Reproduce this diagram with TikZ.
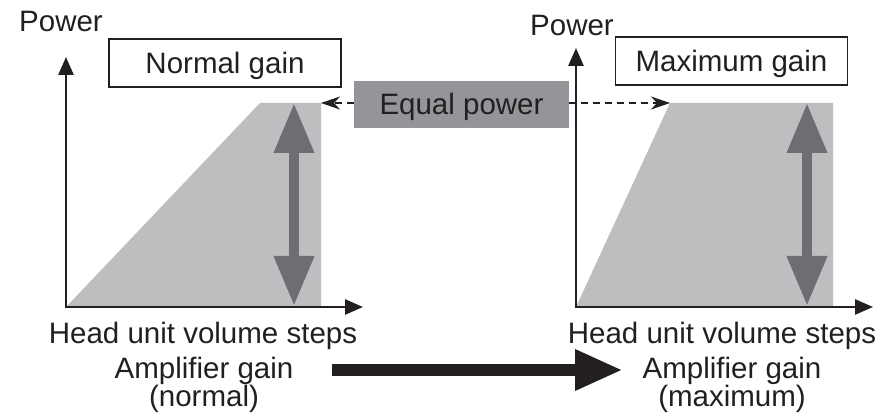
\documentclass[tikz,border=0pt]{standalone}
\usepackage{fontspec}
\setmainfont{Liberation Sans}
\usetikzlibrary{arrows.meta,positioning}
\definecolor{fillgrey}{HTML}{BCBEC0}
\definecolor{levelgrey}{HTML}{6D6E71}
\definecolor{boxgrey}{HTML}{939598}
\definecolor{ink}{HTML}{231F20}
\newcommand{\figfont}{\fontsize{29.5}{28}\selectfont\lineskiplimit=-50pt\relax}
\tikzstyle{axis} = [ink, line width=2.7pt,
                    {Triangle[length=18pt,width=15pt]}-{Triangle[length=18pt,width=15pt]}]

\begin{document}
\begin{tikzpicture}[x=1pt,y=-1pt]

  \useasboundingbox (0,0) rectangle (892,414);

  \tikzstyle{txt}=[text=ink, inner sep=0pt, font=\figfont];
  \tikzstyle{gainbox}=[txt, draw=ink, line width=1.5pt, fill=white,
                       minimum width=232pt, minimum height=48pt,
                       text height=21pt, text depth=0pt];
  \tikzstyle{eqbox}=[txt, fill=boxgrey,
                     minimum width=215pt, minimum height=47pt,
                     text height=21pt, text depth=0pt];
  \tikzstyle{level}=[levelgrey, line width=10pt,
                     {Triangle[length=50pt,width=38pt]}-{Triangle[length=50pt,width=38pt]}];
  \tikzstyle{dasharrow}=[ink, line width=2pt, dash pattern=on 7pt off 5pt,
                         -{Stealth[length=19pt,width=13pt,inset=6pt]}];
  \tikzstyle{bigarrow}=[ink, line width=12pt,
                        -{Triangle[length=48pt,width=38pt]}];

  % left chart (normal gain)
  \coordinate (OriginL) at (66,307);
  \coordinate (YtipL) at (66,57);
  \coordinate (XtipL) at (363,307);
  \coordinate (RampL) at (260,103);
  \coordinate (TopL) at (321,103);
  \coordinate (EndL) at (321,307);
  \coordinate (LevelTopL) at (294,103);
  \coordinate (LevelBotL) at (294,306);

  % right chart (maximum gain)
  \coordinate (OriginR) at (576,307);
  \coordinate (YtipR) at (576,48);
  \coordinate (XtipR) at (873,307);
  \coordinate (RampR) at (670,103);
  \coordinate (TopR) at (833,103);
  \coordinate (EndR) at (833,307);
  \coordinate (LevelTopR) at (807,103);
  \coordinate (LevelBotR) at (807,306);

  \coordinate (GainFrom) at (332,370);
  \coordinate (GainTo) at (623,370);

  \fill[fillgrey] (OriginL) -- (RampL) -- (TopL) -- (EndL) -- cycle;
  \fill[fillgrey] (OriginR) -- (RampR) -- (TopR) -- (EndR) -- cycle;

  \draw[level] (LevelBotL) -- (LevelTopL);
  \draw[level] (LevelBotR) -- (LevelTopR);

  \draw[axis] (YtipL) -- (OriginL) -- (XtipL);
  \draw[axis] (YtipR) -- (OriginR) -- (XtipR);

  \node[txt, anchor=base] (PowerL) at (61,32) {Power};
  \node[txt, anchor=base] (PowerR) at (572,36) {Power};

  \node[gainbox] (NormalBox) at (225,63) {Normal gain};
  \node[gainbox] (MaxBox) at (731.5,61) {Maximum gain};

  \node[eqbox] (EqualBox) at (461.5,104.5) {Equal power};
  \draw[dasharrow] (EqualBox.west |- TopL) -- (TopL);
  \draw[dasharrow] (EqualBox.east |- RampR) -- (RampR);

  \node[txt, anchor=base] (StepsL) at (203,343) {Head unit volume steps};
  \node[txt, anchor=base] (StepsR) at (722,343) {Head unit volume steps};

  \node[txt, align=center, anchor=north] (AmpNormal) at (204,357) {Amplifier gain\\(normal)};
  \node[txt, align=center, anchor=north] (AmpMax) at (732,357) {Amplifier gain\\(maximum)};

  \draw[bigarrow] (GainFrom) -- (GainTo);

\end{tikzpicture}
\end{document}
